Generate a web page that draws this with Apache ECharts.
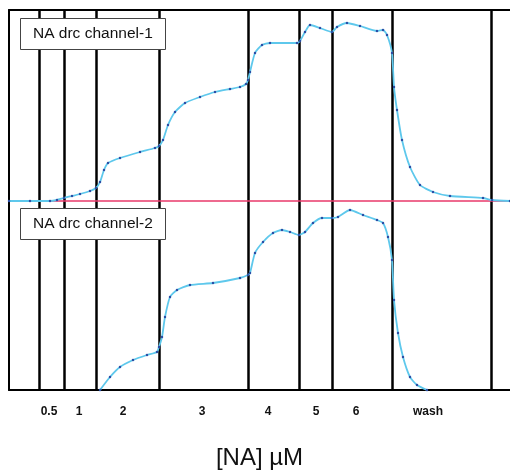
<!DOCTYPE html>
<html>
<head>
<meta charset="utf-8">
<script src="https://cdn.jsdelivr.net/npm/echarts@6/dist/echarts.min.js"></script>
<style>
  html, body { margin: 0; padding: 0; background: #fff; }
  #chart { width: 510px; height: 476px; }
</style>
</head>
<body>
<div id="chart"></div>
<script>
// time (arbitrary units) where each concentration step starts
const stepBounds = [30, 55, 87, 150, 239, 290, 323, 383, 482];
const stepLabels = ['0.5', '1', '2', '3', '4', '5', '6', 'wash'];
const stepLabelPos = [40, 70, 114, 193, 259, 307, 347, 419];

// baseline level shared by the recordings
const baseline = 189;

// channel 1 trace
const ch1Time = [0, 21, 41, 48, 55, 63, 71, 81, 87, 91, 95, 99, 111, 131, 146, 150, 154, 159, 166, 176,
  191, 206, 221, 231, 237, 239, 241, 246, 253, 261, 288, 291, 296, 301, 311, 323, 328, 338, 351, 368,
  374, 378, 383, 385, 388, 393, 401, 411, 424, 441, 474, 483, 501];
const ch1Value = [189, 189, 189, 190, 192, 194, 196, 199, 202, 208, 220, 227, 232, 238, 242, 244, 250, 265, 278, 287,
  293, 298, 301, 303, 306, 310, 318, 337, 345, 347, 347, 349, 358, 365, 362, 358, 363, 367, 364, 359,
  360, 355, 337, 303, 280, 250, 223, 205, 198, 194, 192, 190, 189];

// channel 2 trace
const ch2Time = [91, 101, 111, 124, 138, 148, 150, 153, 156, 161, 168, 181, 204, 231, 239, 241, 246, 254, 264, 273,
  281, 290, 296, 304, 313, 323, 329, 341, 354, 368, 374, 379, 383, 385, 389, 394, 401, 408, 418];
const ch2Value = [0, 13, 23, 30, 35, 38, 43, 53, 73, 93, 100, 105, 107, 112, 115, 117, 137, 148, 157, 160,
  158, 155, 158, 167, 172, 172, 173, 180, 175, 170, 167, 153, 130, 90, 57, 33, 13, 5, 0];

function zip(xs, ys) {
    return xs.map(function (x, i) { return [x, ys[i]]; });
}

let chart = echarts.init(document.getElementById('chart'));

const traceStyle = {
    type: 'line',
    smooth: 0.2,
    symbol: 'circle',
    symbolSize: 2.5,
    showAllSymbol: true,
    lineStyle: { color: '#5ec8ec', width: 1.8 },
    itemStyle: { color: '#2c4fa6' },
    z: 4
};

let option = {
    backgroundColor: '#fff',
    animation: false,
    title: [
        {
            text: 'NA drc channel-1',
            left: 20, top: 18,
            padding: [8, 13],
            borderColor: '#444', borderWidth: 1,
            backgroundColor: '#fff',
            textStyle: { fontFamily: 'Liberation Sans', fontSize: 15.5, fontWeight: 'normal', color: '#111', lineHeight: 16 }
        },
        {
            text: 'NA drc channel-2',
            left: 20, top: 208,
            padding: [8, 13],
            borderColor: '#444', borderWidth: 1,
            backgroundColor: '#fff',
            textStyle: { fontFamily: 'Liberation Sans', fontSize: 15.5, fontWeight: 'normal', color: '#111', lineHeight: 16 }
        }
    ],
    grid: { left: 9, top: 10, right: 0, bottom: 86, outerBoundsMode: 'none' },
    xAxis: [
        {
            type: 'value', min: 0, max: 501,
            axisLine: { show: true, lineStyle: { color: '#000', width: 2 } },
            axisTick: { show: false },
            splitLine: { show: false },
            axisLabel: {
                customValues: stepLabelPos,
                formatter: function (v) { return stepLabels[stepLabelPos.indexOf(v)]; },
                margin: 16,
                fontFamily: 'Liberation Sans', fontSize: 12, fontWeight: 'bold', color: '#111'
            },
            name: '[NA] \u00b5M',
            nameLocation: 'middle',
            nameGap: 56,
            nameTextStyle: { fontFamily: 'Liberation Sans', fontSize: 24, color: '#111' }
        },
        {
            type: 'value', min: 0, max: 501, position: 'top',
            axisLine: { show: true, lineStyle: { color: '#000', width: 2 } },
            axisTick: { show: false }, axisLabel: { show: false }, splitLine: { show: false }
        }
    ],
    yAxis: {
        type: 'value', min: 0, max: 380,
        axisLine: { show: true, lineStyle: { color: '#000', width: 2 } },
        axisTick: { show: false }, axisLabel: { show: false }, splitLine: { show: false }
    },
    series: [
        {
            name: 'steps',
            type: 'line',
            data: [],
            z: 1,
            markLine: {
                z: 1,
                silent: true,
                symbol: 'none',
                label: { show: false },
                lineStyle: { color: '#000', width: 2.5, type: 'solid' },
                data: stepBounds.map(function (b) { return { xAxis: b }; })
                    .concat([{ yAxis: baseline, lineStyle: { color: '#e8386a', width: 1.6 } }])
            }
        },
        Object.assign({ name: 'channel-1', data: zip(ch1Time, ch1Value) }, traceStyle),
        Object.assign({ name: 'channel-2', data: zip(ch2Time, ch2Value) }, traceStyle)
    ]
};

option && chart.setOption(option);
</script>
</body>
</html>
